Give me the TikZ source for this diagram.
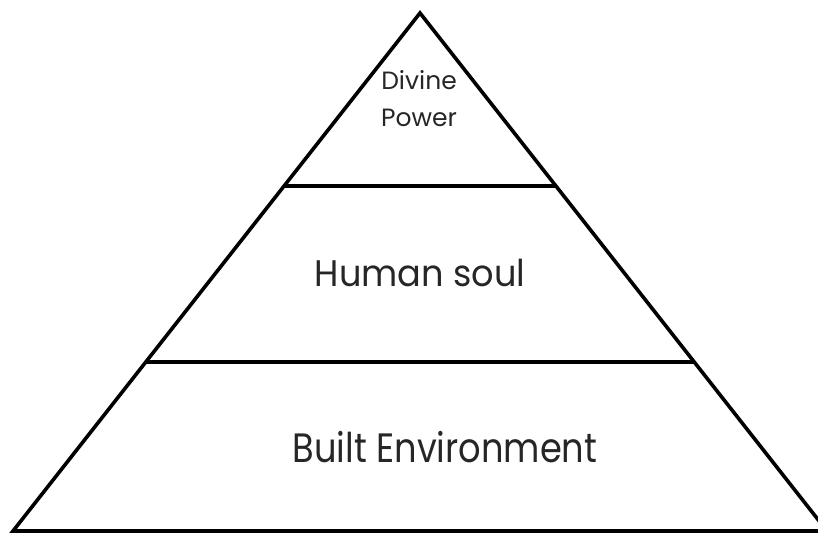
\documentclass[tikz,border=0pt]{standalone}
\usepackage{fontspec}
\setmainfont{Poppins}
\newfontfamily\soulfont{Poppins}[FakeStretch=0.95]
\newfontfamily\builtfont{Poppins}[FakeStretch=0.86]
\usetikzlibrary{calc}
\tikzset{tier/.style={line width=3.6pt, line join=miter},
  label/.style={inner sep=0pt, align=center, text=black!85}}

\begin{document}
\begin{tikzpicture}[x=1pt, y=-1pt]

  \useasboundingbox (0,0) rectangle (818,532);
  \coordinate (apex) at (420,13);
  \coordinate (bl) at (13,531);
  \coordinate (br) at (827,531);

  \draw[tier] (bl) -- (apex) -- (br) -- cycle;
  \draw[tier] ($(apex)!0.334!(bl)$) -- ($(apex)!0.334!(br)$);
  \draw[tier] ($(apex)!0.674!(bl)$) -- ($(apex)!0.674!(br)$);

  \node[label, font=\fontsize{25}{37}\selectfont] (divine) at (419,99) {Divine\\Power};
  \node[label, font=\soulfont\fontsize{37}{44}\selectfont] (soul) at (420,273) {Human soul};
  \node[label, font=\builtfont\fontsize{41}{50}\selectfont] (built) at (445,447) {Built Environment};

\end{tikzpicture}
\end{document}
